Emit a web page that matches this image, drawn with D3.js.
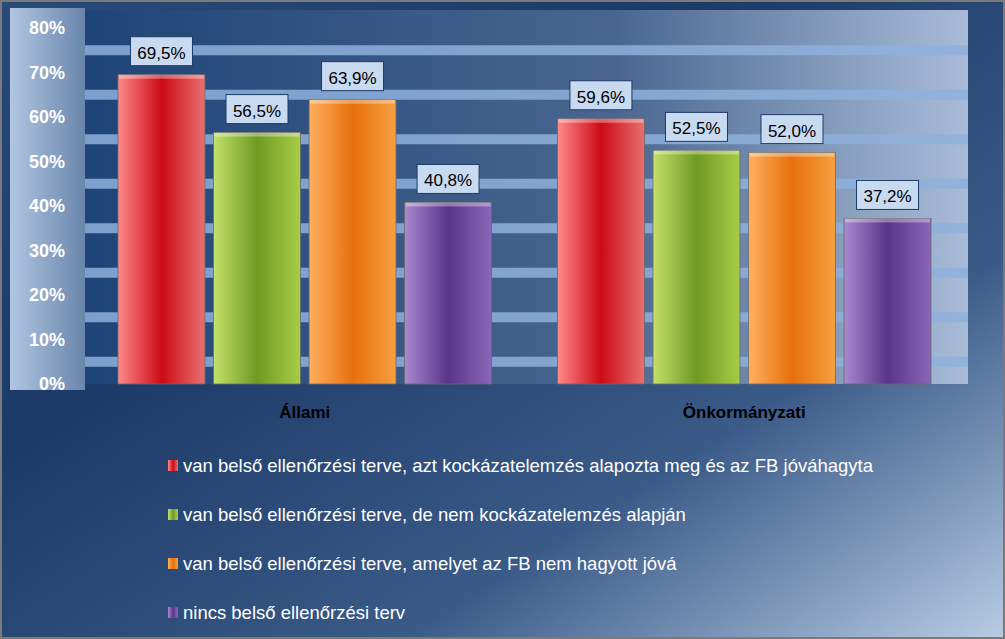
<!DOCTYPE html><html><head><meta charset="utf-8">
<script src="https://cdn.jsdelivr.net/npm/d3@7"></script>
<style>body{margin:0;background:#fff}text{font-family:"Liberation Sans",Arial,sans-serif}</style></head><body>
<svg id="c" width="1005" height="639"></svg>
<script>
const categories=["Állami","Önkormányzati"];
const seriesNames=["van belső ellenőrzési terve, azt kockázatelemzés alapozta meg és az FB jóváhagyta","van belső ellenőrzési terve, de nem kockázatelemzés alapján","van belső ellenőrzési terve, amelyet az FB nem hagyott jóvá","nincs belső ellenőrzési terv"];
const seriesValues=[[69.5,59.6],[56.5,52.5],[63.9,52.0],[40.8,37.2]];
const ticks=[0,10,20,30,40,50,60,70,80];
const colors=[["#ff8a8a","#cc0a14","#e87070"],["#c4e06a","#6e9a22","#a8cc48"],["#ffb060","#e8700c","#f5a040"],["#a88ad0","#5a3488","#8a66b8"]];
const svg=d3.select("#c"),defs=svg.append("defs");
const bg=defs.append("linearGradient").attr("id","bg").attr("x1",0).attr("y1",0).attr("x2",1).attr("y2",1);
[[0,"#2a4a7a"],[0.35,"#1c3a68"],[0.7,"#3a5a88"],[1,"#b8cce4"]].forEach(s=>bg.append("stop").attr("offset",s[0]).attr("stop-color",s[1]));
const pb=defs.append("linearGradient").attr("id","pb");
[[0,"#1e4478"],[0.6,"#4a6690"],[1,"#a8bcd8"]].forEach(s=>pb.append("stop").attr("offset",s[0]).attr("stop-color",s[1]));
const ax=defs.append("linearGradient").attr("id","ax");
[[0,"#b0c6e2"],[1,"#6a86ac"]].forEach(s=>ax.append("stop").attr("offset",s[0]).attr("stop-color",s[1]));
colors.forEach((c,i)=>{const g=defs.append("linearGradient").attr("id","g"+i);
[[0,c[0]],[0.5,c[1]],[1,c[2]]].forEach(s=>g.append("stop").attr("offset",s[0]).attr("stop-color",s[1]));});
svg.append("rect").attr("width",1005).attr("height",639).attr("fill","url(#bg)");
svg.append("rect").attr("x",1).attr("y",1).attr("width",1003).attr("height",637).attr("fill","none").attr("stroke","#7a7a7a").attr("stroke-width",2);
svg.append("rect").attr("x",10).attr("y",8).attr("width",75).attr("height",382).attr("fill","url(#ax)");
const y=d3.scaleLinear().domain([0,80]).range([384,28]);
const x0=d3.scaleBand().domain(categories).range([118,931]).paddingInner(0.15).paddingOuter(0);
const x1=d3.scaleBand().domain(d3.range(4)).range([0,x0.bandwidth()]).paddingInner(0.09);
svg.append("rect").attr("x",85).attr("y",10).attr("width",883).attr("height",374).attr("fill","url(#pb)");
svg.append("g").selectAll("rect").data([5,15,25,35,45,55,65,75]).join("rect")
 .attr("x",85).attr("width",883).attr("y",d=>y(d)-5).attr("height",10).attr("fill","#8eb0dc").attr("opacity",0.85);
const axis=svg.append("g").attr("transform","translate(68,0)").call(d3.axisLeft(y).tickValues(ticks).tickFormat(d=>d+"%").tickSize(0));
axis.select(".domain").remove();
axis.selectAll("text").attr("fill","#fff").attr("font-size",18).attr("font-weight","bold");
categories.forEach((cat,ci)=>{
 seriesValues.forEach((vals,si)=>{
  const v=vals[ci],bx=x0(cat)+x1(si),w=x1.bandwidth();
  svg.append("rect").attr("x",bx).attr("y",y(v)).attr("width",w).attr("height",y(0)-y(v)).attr("fill","url(#g"+si+")").attr("stroke","#6a6a6a").attr("stroke-width",0.8);
  svg.append("rect").attr("x",bx+1).attr("y",y(v)).attr("width",w-2).attr("height",4).attr("fill","#fff").attr("opacity",0.35);
  const lbl=d3.format(".1f")(v).replace(".",",")+"%";
  const cx=bx+w/2,ty=y(v)-21;
  svg.append("rect").attr("x",cx-31).attr("y",ty-17).attr("width",62).attr("height",29).attr("fill","#c8daf0").attr("stroke","#1c3a68");
  svg.append("text").attr("x",cx).attr("y",ty+5).attr("text-anchor","middle").attr("font-size",17).attr("fill","#000").text(lbl);
 });
 svg.append("text").attr("x",x0(cat)+x0.bandwidth()/2).attr("y",418).attr("text-anchor","middle").attr("font-size",17).attr("font-weight","bold").attr("fill","#000").text(cat);
});
const lg=svg.append("g").selectAll("g").data(seriesNames).join("g").attr("transform",(d,i)=>`translate(168,${466+i*49})`);
lg.append("rect").attr("x",0).attr("y",-6).attr("width",10).attr("height",11).attr("fill",(d,i)=>"url(#g"+i+")");
lg.append("text").attr("x",15).attr("y",6).attr("font-size",18.5).attr("fill","#fff").text(d=>d);
</script></body></html>
